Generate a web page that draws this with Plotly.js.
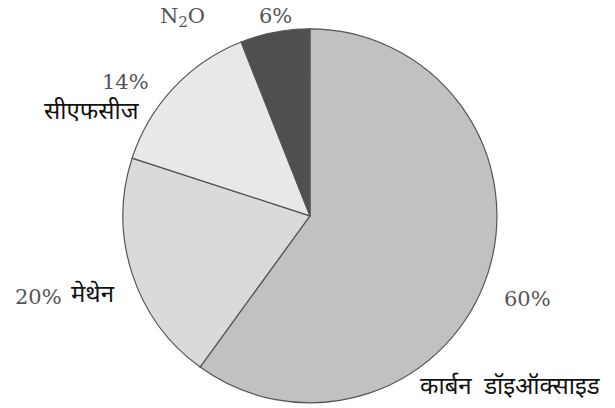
<!DOCTYPE html>
<html>
<head>
<meta charset="utf-8">
<script src="https://cdn.plot.ly/plotly-3.0.1.min.js"></script>
<style>html,body{margin:0;padding:0;background:#fff;}#chart{width:615px;height:408px;}</style>
</head>
<body>
<div id="chart"></div>
<script>
const gases = ["कार्बन  डॉइऑक्साइड", "मेथेन", "सीएफसीज", "N<sub>2</sub>O"];
const shares = [60, 20, 14, 6];
const sliceColors = ["#c0c1c3", "#d9dadc", "#e7e8e9", "#4e4f51"];

const numFont = {family: "DejaVu Serif, Liberation Serif, serif", size: 21, color: "#555"};
const hiFont = {family: "Noto Sans Devanagari, Noto Sans, sans-serif", size: 24, color: "#111", weight: 400};

const trace = {
  type: "pie",
  labels: gases,
  values: shares,
  sort: false,
  direction: "clockwise",
  rotation: 0,
  textinfo: "none",
  hoverinfo: "label+percent",
  marker: {colors: sliceColors, line: {color: "#555", width: 1.2}},
  domain: {x: [0.2, 0.808], y: [0.012, 0.93]},
  showlegend: false
};

const annotations = [
  {x: 527/615, y: 1 - 299/408, text: shares[0] + "%", font: numFont},
  {x: 510/615, y: 1 - 388/408, text: gases[0], font: hiFont},
  {x: 64/615, y: 1 - 297/408, text: shares[1] + "%", font: numFont, xanchor: "right"},
  {x: 69/615, y: 1 - 296/408, text: gases[1], font: hiFont, xanchor: "left"},
  {x: 125/615, y: 1 - 82/408, text: shares[2] + "%", font: numFont},
  {x: 92/615, y: 1 - 113/408, text: gases[2], font: hiFont},
  {x: 182/615, y: 1 - 17/408, text: gases[3], font: numFont},
  {x: 275/615, y: 1 - 16/408, text: shares[3] + "%", font: numFont}
].map(a => Object.assign({xref: "paper", yref: "paper", showarrow: false, xanchor: "center", yanchor: "middle"}, a));

Plotly.newPlot("chart", [trace], {
  width: 615, height: 408,
  margin: {l: 0, r: 0, t: 0, b: 0},
  paper_bgcolor: "#fff",
  annotations: annotations
}, {displayModeBar: false, staticPlot: true});
</script>
</body>
</html>
